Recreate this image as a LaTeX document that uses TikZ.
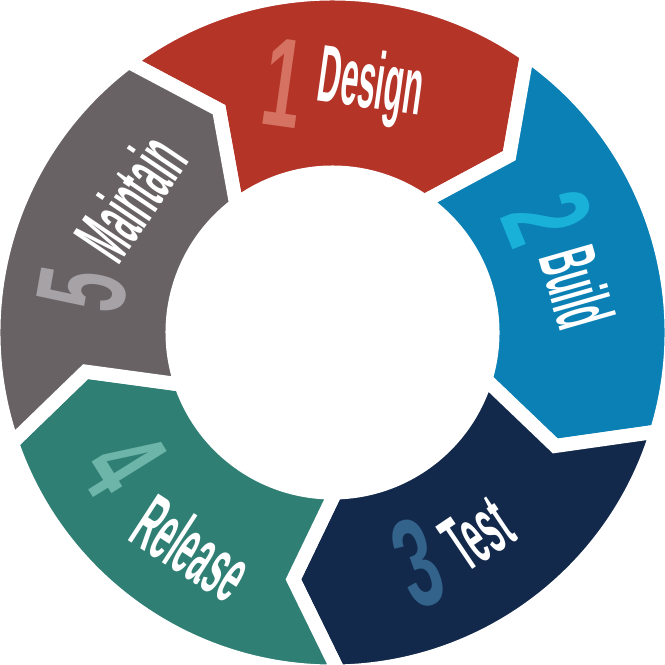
\documentclass[tikz,border=0pt]{standalone}
\usepackage{fontspec}
\setmainfont{Liberation Sans}
% narrow lettering
\newfontfamily\wordfont[FakeStretch=0.39]{Liberation Sans Bold}
\newfontfamily\digitfont[FakeStretch=0.55]{Liberation Sans Bold}
\usepackage{tikz}

\definecolor{designred}{HTML}{B43428}
\definecolor{designpale}{HTML}{D67262}
\definecolor{buildblue}{HTML}{0A80B5}
\definecolor{buildpale}{HTML}{19B1D7}
\definecolor{testnavy}{HTML}{12294B}
\definecolor{testpale}{HTML}{33628B}
\definecolor{releaseteal}{HTML}{2F7F75}
\definecolor{releasepale}{HTML}{6DB4A9}
\definecolor{maintaingrey}{HTML}{686264}
\definecolor{maintainpale}{HTML}{A6A2A5}

\begin{document}
\begin{tikzpicture}
  \useasboundingbox (-3.325,-3.325) rectangle (3.325,3.325);

  \begin{scope}[every path/.style={draw=white,line width=1.4mm,line join=miter}]
    % 1 design
    \path[fill=designred] (127:3.39) arc[start angle=127,end angle=55,radius=3.39]
      -- (45:2.5) -- (55:1.6) arc[start angle=55,end angle=127,radius=1.6] -- (117:2.5) -- cycle;
    % 2 build
    \path[fill=buildblue] (55:3.39) arc[start angle=55,end angle=-17,radius=3.39]
      -- (-27:2.5) -- (-17:1.6) arc[start angle=-17,end angle=55,radius=1.6] -- (45:2.5) -- cycle;
    % 3 test
    \path[fill=testnavy] (-17:3.39) arc[start angle=-17,end angle=-89,radius=3.39]
      -- (-99:2.5) -- (-89:1.6) arc[start angle=-89,end angle=-17,radius=1.6] -- (-27:2.5) -- cycle;
    % 4 release
    \path[fill=releaseteal] (-89:3.39) arc[start angle=-89,end angle=-161,radius=3.39]
      -- (-171:2.5) -- (-161:1.6) arc[start angle=-161,end angle=-89,radius=1.6] -- (-99:2.5) -- cycle;
    % 5 maintain
    \path[fill=maintaingrey] (199:3.39) arc[start angle=199,end angle=127,radius=3.39]
      -- (117:2.5) -- (127:1.6) arc[start angle=127,end angle=199,radius=1.6] -- (189:2.5) -- cycle;
  \end{scope}

  \begin{scope}[every node/.style={inner sep=0pt,font=\digitfont\fontsize{36}{36}\selectfont}]
    \node[text=designpale,rotate=-8] (one) at (-0.49,2.49) {1};
    \node[text=buildpale,rotate=-68] (two) at (2.15,1.15) {2};
    \node[text=testpale,rotate=20] (three) at (0.85,-2.31) {3};
    \node[text=releasepale,rotate=-58] (four) at (-2.09,-1.31) {4};
    \node[text=maintainpale,rotate=80] (five) at (-2.50,0.42) {5};
  \end{scope}

  \begin{scope}[every node/.style={inner sep=0pt,text=white,font=\wordfont\fontsize{23}{23}\selectfont}]
    \node[rotate=-8] (design) at (0.38,2.45) {Design};
    \node[rotate=-74] (build) at (2.45,0.45) {Build};
    \node[rotate=34] (test) at (1.45,-2.01) {Test};
    \node[rotate=-33] (release) at (-1.40,-2.15) {Release};
    \node[rotate=56] (maintain) at (-2.02,1.35) {Maintain};
  \end{scope}
\end{tikzpicture}
\end{document}
